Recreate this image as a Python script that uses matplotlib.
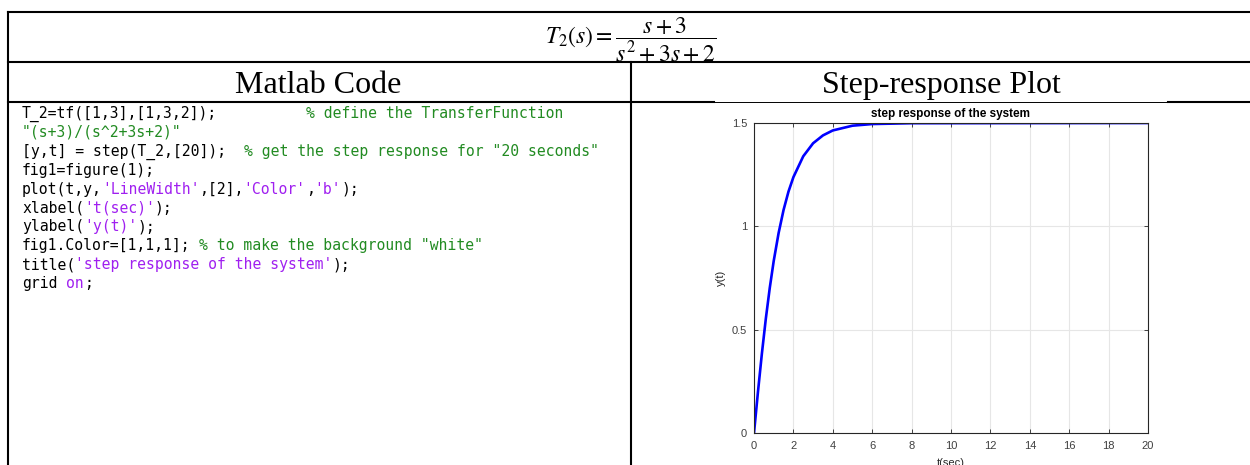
import matplotlib.pyplot as plt
from matplotlib.patches import Rectangle

plt.rcParams['mathtext.fontset'] = 'stix'

# step response samples
t_vals = [0, 0.2, 0.4, 0.6, 0.8, 1.0, 1.25, 1.5, 1.75, 2.0, 2.5, 3.0, 3.5, 4.0, 5.0, 6.0, 8.0, 20.0]
y_vals = [0, 0.198, 0.384, 0.553, 0.702, 0.832, 0.968, 1.079, 1.168, 1.238, 1.339, 1.402,
          1.440, 1.464, 1.487, 1.495, 1.499, 1.5]
x_ticks = [0, 2, 4, 6, 8, 10, 12, 14, 16, 18, 20]
y_ticks = [0, 0.5, 1, 1.5]
y_tick_labels = ['0', '0.5', '1', '1.5']

formula = r'$T_2(s) = \dfrac{s+3}{s^2+3s+2}$'
headers = ['Matlab Code', 'Step-response Plot']

# code lines as (text, kind[, column]) segments: k = code, g = comment, p = string
code_lines = [
    [("T_2=tf([1,3],[1,3,2]);", 'k'), ("% define the TransferFunction", 'g', 32)],
    [('"(s+3)/(s^2+3s+2)"', 'g')],
    [("[y,t] = step(T_2,[20]);", 'k'), ('% get the step response for "20 seconds"', 'g', 25)],
    [("fig1=figure(1);", 'k')],
    [("plot(t,y,", 'k'), ("'LineWidth'", 'p'), (",[2],", 'k'), ("'Color'", 'p'), (",", 'k'),
     ("'b'", 'p'), (");", 'k')],
    [("xlabel(", 'k'), ("'t(sec)'", 'p'), (");", 'k')],
    [("ylabel(", 'k'), ("'y(t)'", 'p'), (");", 'k')],
    [("fig1.Color=[1,1,1];", 'k'), ('% to make the background "white"', 'g', 20)],
    [("title(", 'k'), ("'step response of the system'", 'p'), (");", 'k')],
    [("grid", 'k'), ("on", 'p', 5), (";", 'k')],
]
code_colors = {'k': 'black', 'g': '#228B22', 'p': '#A020F0'}

W, H = 1250, 465
fig = plt.figure(figsize=(W / 100, H / 100), dpi=100)

# base layer in pixel coordinates for the table
ax0 = fig.add_axes([0, 0, 1, 1])
ax0.set_xlim(0, W)
ax0.set_ylim(H, 0)
ax0.axis('off')

lw = 1.5
ax0.plot([8, W], [12, 12], color='black', lw=lw)
ax0.plot([8, W], [62, 62], color='black', lw=lw, zorder=5)
ax0.plot([8, 714], [102, 102], color='black', lw=lw)
ax0.plot([714, 1168], [102, 102], color='black', lw=0.7)
ax0.plot([1168, W], [102, 102], color='black', lw=lw)
ax0.plot([8, 8], [12, H], color='black', lw=lw)
ax0.plot([631, 631], [62, H], color='black', lw=lw)

# formula is cut off by the row line, as in the source table
ftxt = ax0.text(631, 44, formula, ha='center', va='baseline', fontsize=17)
ftxt.set_clip_path(Rectangle((8, 13), W - 8, 48, transform=ax0.transData))
ftxt.set_clip_on(True)

ax0.text(318, 93, headers[0], ha='center', va='baseline', fontsize=23,
         family='Liberation Serif')
ax0.text(941, 93, headers[1], ha='center', va='baseline', fontsize=23,
         family='Liberation Serif')

# monospace code, each coloured piece placed at its column
code_fs = 10.6
char_w = code_fs * 100 / 72 * 0.602
for i, segs in enumerate(code_lines):
    y = 118 + i * 18.9
    col = 0
    for seg in segs:
        txt, kind = seg[0], seg[1]
        if len(seg) > 2:
            col = seg[2]
        ax0.text(22 + col * char_w, y, txt, ha='left', va='baseline', fontsize=code_fs,
                 family='DejaVu Sans Mono', color=code_colors[kind])
        col += len(txt)

# the step response plot
ax = fig.add_axes([754 / W, (H - 433) / H, 394 / W, 310 / H])
ax.plot(t_vals, y_vals, color='blue', lw=1.9)
ax.set_xlim(0, 20)
ax.set_ylim(0, 1.5)
ax.set_xticks(x_ticks)
ax.set_yticks(y_ticks)
ax.set_yticklabels(y_tick_labels)
ax.grid(True, color='#e6e6e6', lw=0.8)
ax.set_axisbelow(True)
ax.tick_params(direction='in', top=True, right=True, length=3, width=0.6,
               labelsize=8, labelcolor='#404040', color='#262626')
ax.tick_params(axis='x', pad=6)
ax.tick_params(axis='y', pad=5)
for lab in ax.get_xticklabels() + ax.get_yticklabels():
    lab.set_family('Liberation Sans')
for sp in ax.spines.values():
    sp.set_color('#262626')
    sp.set_linewidth(0.8)
ax.set_title('step response of the system', fontsize=8.5, fontweight='bold',
             family='Liberation Sans', pad=4)
ax.set_xlabel('t(sec)', fontsize=8, family='Liberation Sans', color='#262626')
ax.set_ylabel('y(t)', fontsize=8, family='Liberation Sans', color='#262626')
ax.xaxis.set_label_coords(0.5, -0.08)
ax.yaxis.set_label_coords(-0.07, 0.5)

fig.savefig('out.png', dpi=100)
